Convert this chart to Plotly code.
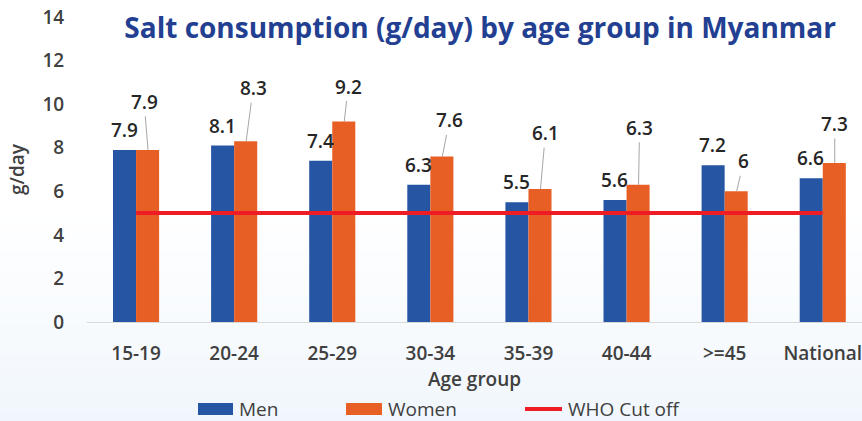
import plotly.graph_objects as go

categories = ["15-19", "20-24", "25-29", "30-34", "35-39", "40-44", ">=45", "National"]
men = [7.9, 8.1, 7.4, 6.3, 5.5, 5.6, 7.2, 6.6]
women = [7.9, 8.3, 9.2, 7.6, 6.1, 6.3, 6.0, 7.3]
who_cutoff = [5, 5, 5, 5, 5, 5, 5, 5]
y_ticks = [0, 2, 4, 6, 8, 10, 12, 14]
series_names = ["Men", "Women", "WHO Cut off"]

# callout offsets (px) for women labels
women_ax = [-4, 7, 4, 7, 5, 1, 7, 0]
women_ay = [-48, -53, -35, -36, -56, -57, -30, -39]

BLUE = "#2655a3"
ORANGE = "#e85f26"
RED = "#ee1c25"
TXT = "#262626"
GRAY = "#404040"
FONT = "Open Sans"

L, T, W, H = 87, 17, 775, 305  # plot area in px


def px2paper(px, py):
    return (px - L) / W, (T + H - py) / H


def fmt(v):
    return f"{v:g}"


fig = go.Figure()
fig.add_trace(go.Bar(x=categories, y=men, name=series_names[0], showlegend=False,
                     marker=dict(color=BLUE, line=dict(width=0))))
fig.add_trace(go.Bar(x=categories, y=women, name=series_names[1], showlegend=False,
                     marker=dict(color=ORANGE, line=dict(width=0))))
fig.add_trace(go.Scatter(x=categories, y=who_cutoff, name=series_names[2], mode="lines",
                         showlegend=False, line=dict(color=RED, width=4)))

ann = []
for c, v in zip(categories, men):
    ann.append(dict(x=c, y=v, text=fmt(v), showarrow=False, xshift=-12, yshift=20,
                    yanchor="middle", font=dict(family=FONT, size=19, color=TXT, weight=600)))
for c, v, ax, ay in zip(categories, women, women_ax, women_ay):
    ann.append(dict(x=c, y=v, text=fmt(v), showarrow=True, arrowhead=0, arrowwidth=1,
                    arrowcolor="#a6a6a6", standoff=0, ax=ax, ay=ay, xshift=12,
                    font=dict(family=FONT, size=19, color=TXT, weight=600)))

shapes = []
# background gradient bands (figure-wide)
top_px, bot_px = 200, 421
N = 30
for i in range(N):
    p0 = top_px + (bot_px - top_px) * i / N
    p1 = top_px + (bot_px - top_px) * (i + 1) / N
    a = 0.3 * ((i + 0.5) / N) ** 1.2
    shapes.append(dict(type="rect", xref="paper", yref="paper", layer="below",
                       x0=-0.2, x1=1.2, y0=px2paper(0, p1)[1], y1=px2paper(0, p0)[1],
                       line=dict(width=0), fillcolor=f"rgba(205,225,245,{a:.3f})"))

# custom legend
leg_y = 409
leg_items = [(198, 233, BLUE, "rect"), (346, 382, ORANGE, "rect"), (525, 562, RED, "line")]
for (x0, x1, col, kind), name in zip(leg_items, series_names):
    px0, py0 = px2paper(x0, leg_y - 6)
    px1, py1 = px2paper(x1, leg_y + 6)
    if kind == "rect":
        shapes.append(dict(type="rect", xref="paper", yref="paper", x0=px0, x1=px1,
                           y0=py1, y1=py0, line=dict(width=0), fillcolor=col))
    else:
        yl = px2paper(0, leg_y)[1]
        shapes.append(dict(type="line", xref="paper", yref="paper", x0=px0, x1=px1,
                           y0=yl, y1=yl, line=dict(color=col, width=4)))
    tx, ty = px2paper(x1 + 4, leg_y)
    ann.append(dict(xref="paper", yref="paper", x=tx, y=ty, xanchor="left", yanchor="middle",
                    text=name, showarrow=False,
                    font=dict(family=FONT, size=19, color=GRAY)))

fig.update_layout(
    width=862, height=421,
    margin=dict(l=L, r=862 - L - W, t=T, b=421 - T - H),
    paper_bgcolor="white", plot_bgcolor="rgba(0,0,0,0)",
    barmode="group", bargap=0.53, bargroupgap=0,
    font=dict(family=FONT, color=GRAY),
    showlegend=False,
    title=dict(text="Salt consumption (g/day) by age group in Myanmar",
               x=0.557, xanchor="center", y=1 - 28 / 421, yanchor="middle",
               font=dict(family=FONT, size=28, color="#233f92", weight="bold")),
    xaxis=dict(type="category", range=[-0.5, 7.4], showgrid=False, showline=True,
               automargin=False,
               linecolor="#d9d9d9", linewidth=1, ticks="outside", ticklen=14,
               tickcolor="rgba(0,0,0,0)",
               tickfont=dict(family=FONT, size=19, color=GRAY, weight=600),
               title=dict(text="Age group", standoff=4,
                          font=dict(family=FONT, size=19, color=GRAY, weight=600))),
    yaxis=dict(range=[0, 14], tickvals=y_ticks, showgrid=False, zeroline=False, showline=False,
               automargin=False,
               ticks="outside", ticklen=18, tickcolor="rgba(0,0,0,0)",
               tickfont=dict(family=FONT, size=19, color=GRAY, weight=600),
               title=dict(text="g/day", standoff=12,
                          font=dict(family=FONT, size=19, color=GRAY, weight=600))),
    annotations=ann, shapes=shapes,
)

fig.write_html("out.html", config={"displayModeBar": False},
               post_script="document.body.style.margin='0';document.body.style.padding='0';")
